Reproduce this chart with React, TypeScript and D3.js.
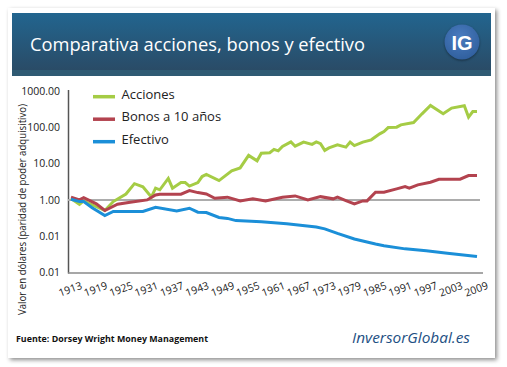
import { useEffect, useRef } from 'react';
import * as d3 from 'd3';

// series: [year, value] in constant dollars
const accionesYears = [1913, 1915, 1916, 1921, 1923, 1926, 1928, 1930, 1932, 1933, 1934, 1936, 1937, 1939, 1940, 1941, 1943, 1944, 1945, 1948, 1951, 1953, 1955, 1957, 1958, 1960, 1961, 1962, 1963, 1965, 1966, 1968, 1970, 1971, 1972, 1973, 1974, 1976, 1978, 1979, 1980, 1982, 1984, 1986, 1987, 1988, 1990, 1991, 1994, 1996, 1998, 2001, 2003, 2006, 2007, 2008, 2009];
const accionesValues = [1.1, 0.75, 0.94, 0.51, 0.9, 1.45, 2.8, 2.3, 1.2, 2.1, 1.9, 3.9, 2.1, 3.0, 3.0, 2.4, 3.0, 4.4, 5.0, 3.4, 6.3, 7.6, 16.8, 11.9, 19.3, 19.9, 24.6, 22.4, 29.4, 39.6, 30.1, 39, 33.8, 39.6, 35.5, 23.1, 27.1, 32.7, 28.3, 38.9, 31.2, 38.9, 45, 65.8, 76.2, 98, 100.6, 116, 135, 234, 396, 234, 336, 389, 190, 271, 271];

const bonosYears = [1913, 1915, 1916, 1919, 1921, 1924, 1927, 1931, 1933, 1934, 1939, 1941, 1943, 1945, 1947, 1950, 1953, 1956, 1959, 1963, 1966, 1969, 1972, 1975, 1976, 1978, 1980, 1982, 1983, 1985, 1987, 1990, 1992, 1993, 1995, 1998, 2000, 2005, 2007, 2009];
const bonosValues = [1.19, 1.0, 1.16, 0.78, 0.51, 0.76, 0.86, 1.0, 1.37, 1.44, 1.44, 1.8, 1.59, 1.46, 1.11, 1.19, 0.94, 1.07, 0.94, 1.19, 1.29, 1.0, 1.23, 1.07, 1.19, 0.96, 0.78, 0.94, 0.94, 1.63, 1.63, 2.01, 2.33, 2.1, 2.59, 3.07, 3.71, 3.71, 4.67, 4.67];

const efectivoYears = [1913, 1915, 1916, 1918, 1921, 1923, 1930, 1933, 1938, 1941, 1943, 1945, 1948, 1950, 1952, 1958, 1964, 1971, 1973, 1976, 1980, 1985, 1987, 1992, 1997, 2002, 2009];
const efectivoValues = [1.04, 0.9, 0.9, 0.61, 0.37, 0.48, 0.48, 0.63, 0.5, 0.59, 0.46, 0.45, 0.33, 0.31, 0.27, 0.25, 0.22, 0.18, 0.16, 0.12, 0.084, 0.061, 0.055, 0.045, 0.04, 0.034, 0.0276];

const seriesNames = ['Acciones', 'Bonos a 10 años', 'Efectivo'];
const seriesColors = ['#a5cc45', '#b3434f', '#1b8fd8'];

const xTicks = d3.range(1913, 2010, 6);
const yTicks = [1000, 100, 10, 1, 0.1, 0.01];
// labels exactly as printed on the original (0.1 shows as 0.01)
const yTickLabels = ['1000.00', '100.00', '10.00', '1.00', '0.01', '0.01'];

const W = 507;
const H = 367;

export default function App() {
  const gx = useRef<SVGGElement>(null);
  const gy = useRef<SVGGElement>(null);

  const x = d3.scaleLinear().domain([1913, 2009]).range([71, 477]);
  const y = d3.scaleLog().domain([0.01, 1000]).range([272.6, 90.9]);

  const zip = (ys: number[], vs: number[]) => ys.map((yr, i) => [yr, vs[i]] as [number, number]);
  const series = [
    zip(accionesYears, accionesValues),
    zip(bonosYears, bonosValues),
    zip(efectivoYears, efectivoValues),
  ];

  const line = d3.line<[number, number]>()
    .x(d => x(d[0]))
    .y(d => y(d[1]));

  useEffect(() => {
    if (gx.current) {
      const g = d3.select(gx.current);
      g.selectAll('*').remove();
      g.call(d3.axisBottom(x).tickValues(xTicks).tickSize(0).tickFormat(d3.format('d')));
      g.select('.domain').attr('stroke', '#8a8a8a').attr('stroke-width', 1.5)
        .attr('d', `M68,0.5H483`);
      g.selectAll<SVGTextElement, number>('.tick text')
        .attr('font-family', '"Open Sans", sans-serif')
        .attr('font-size', 10.5)
        .attr('fill', '#222')
        .attr('text-anchor', 'middle')
        .attr('dy', null)
        .attr('y', null)
        .attr('transform', 'translate(0,20) rotate(-20)');
    }
    if (gy.current) {
      const g = d3.select(gy.current);
      g.selectAll('*').remove();
      g.call(d3.axisLeft(y).tickValues(yTicks).tickSize(0).tickPadding(8)
        .tickFormat((d, i) => yTickLabels[i]));
      g.select('.domain').attr('stroke', '#555').attr('stroke-width', 1.5)
        .attr('d', `M0.5,90V273.5`);
      g.selectAll('.tick text')
        .attr('font-family', '"Open Sans", sans-serif')
        .attr('font-size', 10.5)
        .attr('fill', '#222');
    }
  }, []);

  return (
    <svg width={W} height={H} style={{ position: 'absolute', left: 0, top: 0, background: '#fff' }}>
      <defs>
        <filter id="shadow" x="-5%" y="-5%" width="110%" height="110%">
          <feDropShadow dx="2" dy="2" stdDeviation="2.2" floodColor="#000" floodOpacity="0.45" />
        </filter>
        <linearGradient id="hdr" x1="0" y1="0" x2="0" y2="1">
          <stop offset="0" stopColor="#22658f" />
          <stop offset="1" stopColor="#2a4b66" />
        </linearGradient>
        <radialGradient id="ig" cx="0.45" cy="0.35" r="0.7">
          <stop offset="0" stopColor="#4a7cc0" />
          <stop offset="1" stopColor="#2f5e9c" />
        </radialGradient>
      </defs>

      <rect x={8} y={8} width={487} height={350} fill="#fff" filter="url(#shadow)" />
      <rect x={12} y={13} width={479} height={58} fill="url(#hdr)" />
      <rect x={12} y={70} width={479} height={6} fill="#2f5a73" />
      <text x={30} y={51} fill="#fff" fontFamily='"Open Sans", sans-serif' fontSize={18.3}>
        Comparativa acciones, bonos y efectivo
      </text>
      <circle cx={462} cy={42} r={17.5} fill="url(#ig)" style={{ filter: 'drop-shadow(0 1px 1px rgba(0,0,0,0.4))' }} />
      <text x={462} y={49.5} fill="#fff" fontFamily='"Liberation Sans", Arial, sans-serif' fontWeight="bold"
        fontSize={20} textAnchor="middle">IG</text>

      <g ref={gy} transform="translate(68,0)" />
      <g ref={gx} transform="translate(0,272.6)" />

      <line x1={68} x2={480} y1={y(1)} y2={y(1)} stroke="#acacac" strokeWidth={2} />

      {series.map((s, i) => (
        <path key={seriesNames[i]} d={line(s) as string} fill="none" stroke={seriesColors[i]}
          strokeWidth={3} strokeLinejoin="miter" />
      ))}

      {seriesNames.map((name, i) => (
        <g key={name} transform={`translate(93,${96.7 + i * 22.5})`}>
          <line x1={0} x2={22} y1={0} y2={0} stroke={seriesColors[i]} strokeWidth={3.5} />
          <text x={28.5} y={2} fontFamily='"Open Sans", sans-serif' fontSize={13} fill="#222">{name}</text>
        </g>
      ))}

      <text transform="translate(26,209.5) rotate(-90)" textAnchor="middle"
        fontFamily='"Open Sans", sans-serif' fontSize={10.5} fill="#222"
        textLength={211} lengthAdjust="spacingAndGlyphs">
        Valor en dólares (paridad de poder adquisitivo)
      </text>

      <text x={16} y={342} fontFamily='"Open Sans", sans-serif' fontWeight="bold" fontSize={9.5} fill="#111"
        textLength={192} lengthAdjust="spacingAndGlyphs">
        Fuente: Dorsey Wright Money Management
      </text>
      <text x={352} y={343} fontFamily='"Open Sans", sans-serif' fontStyle="italic" fontSize={15} fill="#1d4f83"
        textLength={118} lengthAdjust="spacingAndGlyphs">
        InversorGlobal.es
      </text>
    </svg>
  );
}
